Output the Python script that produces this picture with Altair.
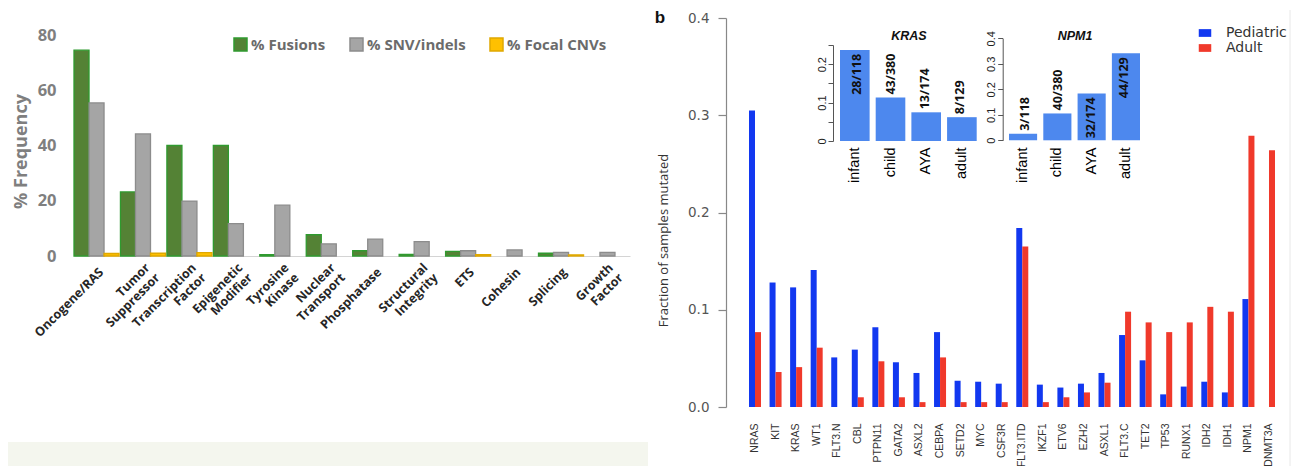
import altair as alt
import pandas as pd

W, H = 1285, 458

# ---------------- Panel a : mutation classes ----------------
categories = ["Oncogene/RAS", "Tumor\nSuppressor", "Transcription\nFactor", "Epigenetic\nModifier",
              "Tyrosine\nKinase", "Nuclear\nTransport", "Phosphatase", "Structural\nIntegrity",
              "ETS", "Cohesin", "Splicing", "Growth\nFactor"]
series_a = ["% Fusions", "% SNV/indels", "% Focal CNVs"]
fusions = [74.5, 23.2, 40.0, 40.0, 0.5, 7.7, 1.9, 0.6, 1.7, 0.0, 1.0, 0.0]
snv_indels = [55.4, 44.2, 19.9, 11.7, 18.4, 4.4, 6.1, 5.2, 1.9, 2.2, 1.3, 1.3]
focal_cnvs = [0.9, 1.0, 1.2, 0.0, 0.0, 0.0, 0.0, 0.0, 0.5, 0.0, 0.4, 0.0]
y_ticks_a = [0, 20, 40, 60, 80]
fill_a = ["#548235", "#a5a5a5", "#ffc000"]
stroke_a = ["#2f9a2f", "#8c8c8c", "#e0a800"]

# ---------------- Panel b : pediatric vs adult ----------------
genes = ["NRAS", "KIT", "KRAS", "WT1", "FLT3.N", "CBL", "PTPN11", "GATA2", "ASXL2", "CEBPA",
         "SETD2", "MYC", "CSF3R", "FLT3.ITD", "IKZF1", "ETV6", "EZH2", "ASXL1", "FLT3.C", "TET2",
         "TP53", "RUNX1", "IDH2", "IDH1", "NPM1", "DNMT3A"]
pediatric = [0.305, 0.128, 0.123, 0.141, 0.051, 0.059, 0.082, 0.046, 0.035, 0.077,
             0.027, 0.026, 0.024, 0.184, 0.023, 0.020, 0.024, 0.035, 0.074, 0.048,
             0.013, 0.021, 0.026, 0.015, 0.111, 0.0]
adult = [0.077, 0.036, 0.041, 0.061, 0.0, 0.010, 0.047, 0.010, 0.005, 0.051,
         0.005, 0.005, 0.005, 0.165, 0.005, 0.010, 0.015, 0.025, 0.098, 0.087,
         0.077, 0.087, 0.103, 0.098, 0.279, 0.264]
groups_b = ["Pediatric", "Adult"]
colors_b = ["#1238f0", "#f0392b"]
y_ticks_b = [0.0, 0.1, 0.2, 0.3, 0.4]

# insets
age_groups = ["infant", "child", "AYA", "adult"]
totals = [118, 380, 174, 129]
kras_mutated = [28, 43, 13, 8]
npm1_mutated = [3, 40, 32, 44]
kras_ticks = [0, 0.05, 0.1, 0.15, 0.2, 0.25]
npm1_ticks = [0, 0.1, 0.2, 0.3, 0.4]
inset_color = "#4d88ee"

layers = []

# faint scan artefacts of the figure
layers.append(alt.Chart(pd.DataFrame({"a": [0]})).mark_rect(color="#f4f6ee").encode(
    x=alt.value(0), x2=alt.value(640), y=alt.value(434), y2=alt.value(H)))
layers.append(alt.Chart(pd.DataFrame({"a": [0]})).mark_rule(color="#e8e8e8", strokeWidth=1).encode(
    x=alt.value(1282), y=alt.value(2), y2=alt.value(H)))

# ---- panel a bars ----
df_a = pd.DataFrame([
    {"category": c, "series": s, "value": v}
    for s, vals in zip(series_a, [fusions, snv_indels, focal_cnvs])
    for c, v in zip(categories, vals)
])
xa = alt.Scale(domain=categories, range=[66, 622], paddingInner=0.03, paddingOuter=0)
ya = alt.Scale(domain=[0, 80], range=[248, 27])

bars_a = alt.Chart(df_a).transform_filter("datum.value > 0").mark_bar(strokeWidth=1.3).encode(
    x=alt.X("category:N", scale=xa, sort=categories,
            axis=alt.Axis(title=None, labels=False, ticks=False, domain=True,
                          domainColor="#d4d4d4", domainWidth=1, offset=248 - H)),
    xOffset=alt.XOffset("series:N", sort=series_a,
                        scale=alt.Scale(domain=series_a, paddingInner=0, paddingOuter=0)),
    y=alt.Y("value:Q", scale=ya, stack=None,
            axis=alt.Axis(orient="left", offset=-48, values=y_ticks_a, domain=False, ticks=False,
                          tickSize=0, labelPadding=0, labelFont="Open Sans", labelFontSize=16.5,
                          labelFontWeight="bold", labelColor="#7f7f7f",
                          title="% Frequency", titleX=-35, titleY=143, titleAngle=270,
                          titleAlign="center", titleBaseline="middle", titleFont="Open Sans",
                          titleFontSize=18, titleFontWeight="bold", titleColor="#7f7f7f")),
    color=alt.Color("series:N", scale=alt.Scale(domain=series_a, range=fill_a),
                    legend=alt.Legend(title=None, orient="none", legendX=225, legendY=29,
                                      direction="horizontal", symbolType="square", symbolSize=169,
                                      symbolStrokeColor="#444", symbolStrokeWidth=1.5,
                                      labelFont="Open Sans", labelFontSize=15,
                                      labelFontWeight="bold", labelColor="#6b6b6b",
                                      labelOffset=3, columnPadding=21, padding=0)),
    stroke=alt.Stroke("series:N", scale=alt.Scale(domain=series_a, range=stroke_a), legend=None),
)
layers.append(bars_a)

# ---- panel a category labels ----
lab_df = pd.DataFrame({"category": categories})
lab_df["multi"] = lab_df["category"].str.contains("\n")
for multi, bandpos, ypix in [(False, 0.63, 258), (True, 0.38, 253.5)]:
    layers.append(alt.Chart(lab_df[lab_df["multi"] == multi]).mark_text(
        angle=315, align="right", baseline="top", lineBreak="\n", font="Open Sans",
        fontSize=12.5, fontWeight="bold", color="#262626", lineHeight=14).encode(
        x=alt.X("category:N", scale=xa, axis=None, bandPosition=bandpos),
        y=alt.value(ypix),
        text="category:N"))

# ---- panel b main bars ----
df_b = pd.DataFrame([
    {"gene": g, "group": grp, "value": v}
    for grp, vals in zip(groups_b, [pediatric, adult])
    for g, v in zip(genes, vals)
])
xb = alt.Scale(domain=genes, range=[741, 1267], paddingInner=0.416, paddingOuter=0)
yb = alt.Scale(domain=[0, 0.4], range=[399, 10])

bars_b = alt.Chart(df_b).mark_bar().encode(
    x=alt.X("gene:N", scale=xb, sort=genes,
            axis=alt.Axis(title=None, orient="bottom", offset=415 - H, domain=False, ticks=False,
                          tickSize=0, labelPadding=0, labelAngle=270, labelAlign="right",
                          labelBaseline="middle", labelFont="Liberation Sans", labelFontSize=10.5,
                          labelColor="#333")),
    xOffset=alt.XOffset("group:N", sort=groups_b,
                        scale=alt.Scale(domain=groups_b, paddingInner=0, paddingOuter=0)),
    y=alt.Y("value:Q", scale=yb, stack=None,
            axis=alt.Axis(orient="left", offset=-718, values=y_ticks_b, format=".1f",
                          domainColor="#888", domainWidth=1.2, tickColor="#888", tickWidth=1.2,
                          tickSize=8, labelPadding=9, labelFont="DejaVu Sans", labelFontSize=13.5,
                          labelColor="#555",
                          title="Fraction of samples mutated", titleX=-63, titleY=232,
                          titleAngle=270, titleAlign="center", titleBaseline="middle",
                          titleFont="Open Sans", titleFontSize=13, titleFontWeight="normal",
                          titleColor="#333")),
    color=alt.Color("group:N", scale=alt.Scale(domain=groups_b, range=colors_b),
                    legend=alt.Legend(title=None, orient="none", legendX=1190, legendY=18,
                                      direction="vertical", symbolType="M-1,-0.62H1V0.62H-1Z",
                                      symbolSize=156, symbolStrokeWidth=0,
                                      labelFont="DejaVu Sans", labelFontSize=14,
                                      labelColor="#333", labelOffset=14, rowPadding=1,
                                      padding=0)),
)
layers.append(bars_b)

# panel tag
layers.append(alt.Chart(pd.DataFrame({"t": ["b"]})).mark_text(
    font="Liberation Sans", fontSize=17, fontWeight="bold", color="#111",
    align="center", baseline="middle").encode(
    text="t:N", x=alt.value(652), y=alt.value(9.5)))


# ---- insets ----
def inset(mutated, gene, xr, pin, ydom, yr, axis_x, tick_vals, lab_expr):
    df = pd.DataFrame({"age": age_groups, "mut": mutated, "total": totals})
    xs = alt.Scale(domain=age_groups, range=xr, paddingInner=pin, paddingOuter=0)
    ys = alt.Scale(domain=ydom, range=yr)
    base = alt.Chart(df).transform_calculate(
        frac="datum.mut / datum.total", lab="datum.mut + '/' + datum.total")
    bars = base.mark_bar(color=inset_color).encode(
        x=alt.X("age:N", scale=xs, sort=age_groups,
                axis=alt.Axis(orient="bottom", offset=139 - H, domain=False, ticks=False,
                              tickSize=0, labelPadding=0, labelAngle=270, labelAlign="right",
                              labelBaseline="middle", labelFont="Liberation Sans",
                              labelFontSize=14.5, labelColor="#000",
                              title=gene, titleX=(xr[0] + xr[1]) / 2, titleY=-111.5,
                              titleAlign="center", titleBaseline="middle",
                              titleFont="Liberation Sans", titleFontSize=12.5,
                              titleFontWeight="bold", titleFontStyle="italic",
                              titleColor="#111")),
        y=alt.Y("frac:Q", scale=ys,
                axis=alt.Axis(orient="left", offset=-axis_x, values=tick_vals, format=".2~f",
                              labelExpr=lab_expr, domainColor="#555", tickColor="#555",
                              tickSize=5, labelPadding=1, labelAngle=270, labelAlign="center",
                              labelBaseline="bottom", labelFont="Liberation Sans",
                              labelFontSize=11, labelColor="#222", title=None)),
    )
    txt = dict(angle=270, baseline="middle", font="Open Sans", fontSize=12.5,
               fontWeight="bold", color="#111")
    above = base.transform_filter("datum.frac <= 0.15").mark_text(
        align="left", dx=3, **txt).encode(
        x=alt.X("age:N", scale=xs, axis=None),
        y=alt.Y("frac:Q", scale=ys, axis=None),
        text="lab:N")
    inside = base.transform_filter("datum.frac > 0.15").mark_text(
        align="right", dx=-4, **txt).encode(
        x=alt.X("age:N", scale=xs, axis=None),
        y=alt.Y("frac:Q", scale=ys, axis=None),
        text="lab:N")
    return [bars, above, inside]


layers += inset(kras_mutated, "KRAS", [832, 968.7], 0.17, [0, 0.25], [133, 37], 825,
                kras_ticks, "round(datum.value*100) % 10 == 0 ? datum.label : ''")
layers += inset(npm1_mutated, "NPM1", [1001, 1132], 0.18, [0, 0.4], [132.3, 30.3], 994.7,
                npm1_ticks, "datum.label")

chart = alt.layer(*layers).resolve_scale(
    x="independent", y="independent", color="independent", stroke="independent",
    xOffset="independent"
).resolve_axis(x="independent", y="independent").resolve_legend(
    color="independent", stroke="independent"
).properties(
    width=W, height=H, padding=0, autosize=alt.AutoSizeParams(type="none")
).configure_view(stroke=None).configure_axis(
    grid=False, labelOverlap=False, labelBound=False, labelFlush=False
)

chart.save("out.html", embed_options={"renderer": "svg", "actions": False})
